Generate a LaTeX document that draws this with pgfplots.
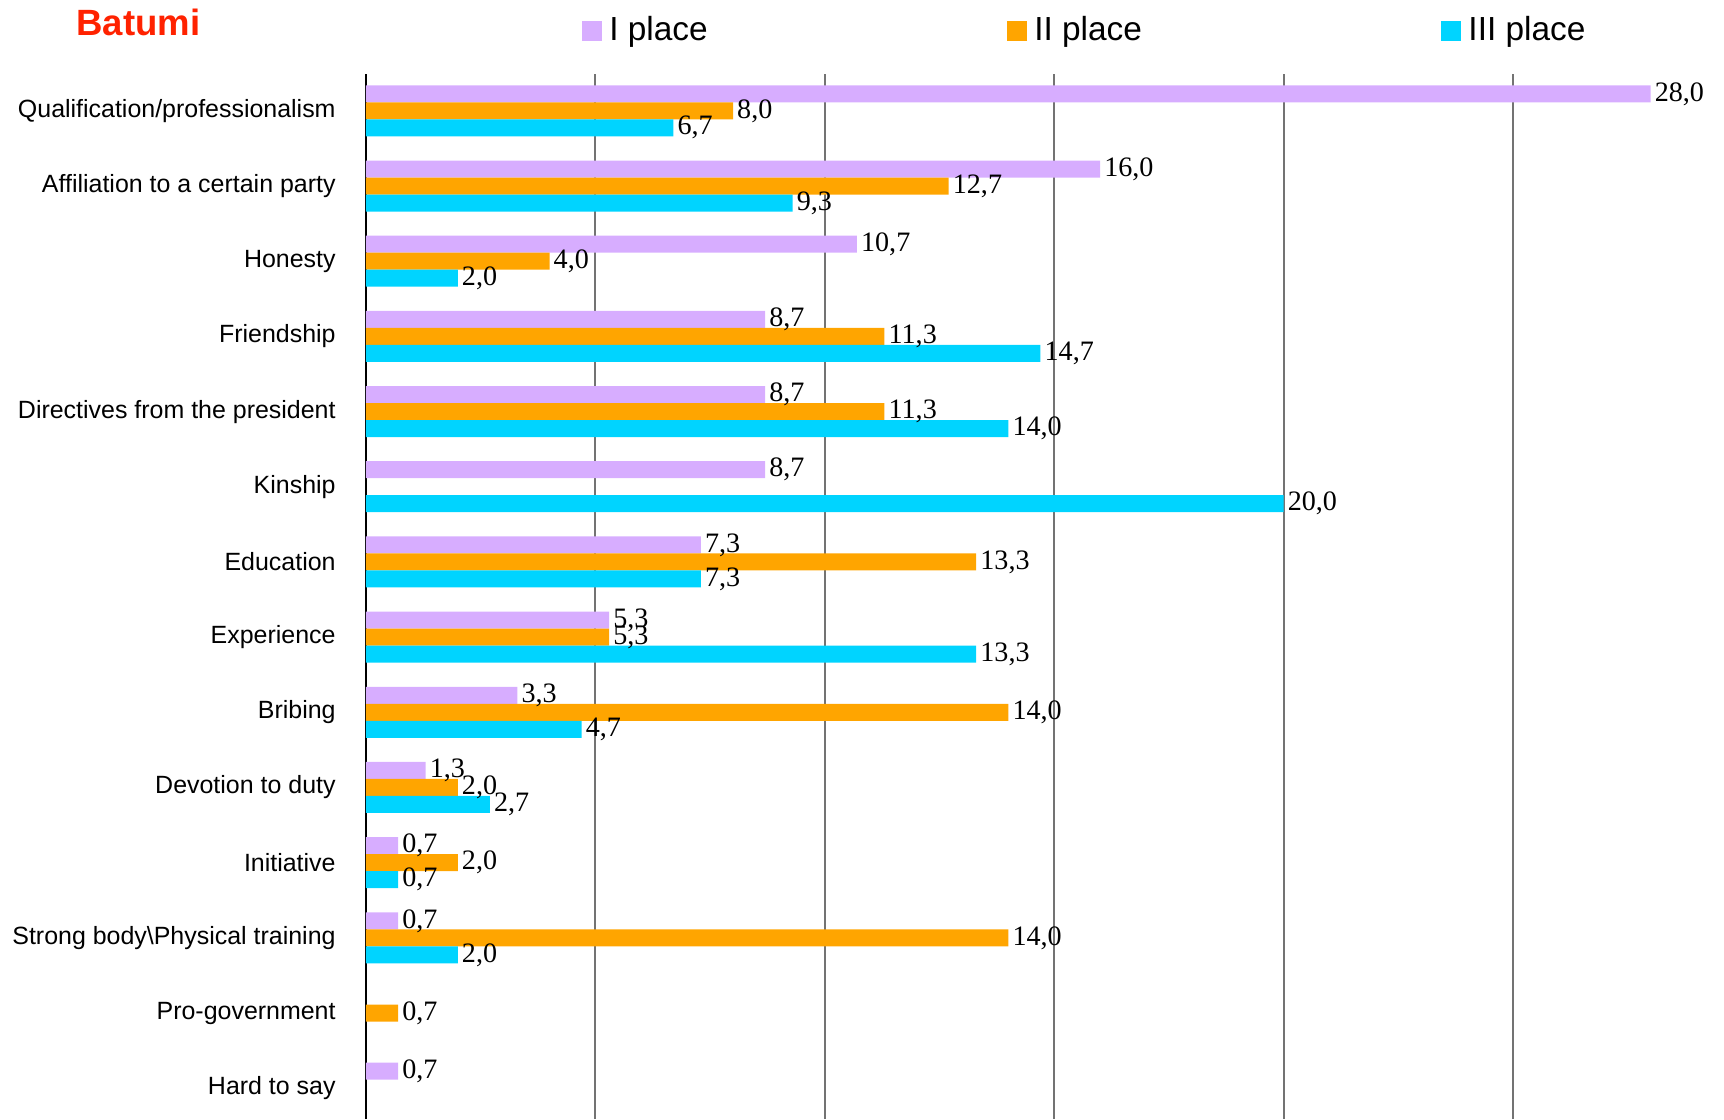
\documentclass[border=0pt]{standalone}
\usepackage{pgfplots}
\pgfplotsset{compat=1.18}
\usepackage{fontspec}
\setmainfont{Liberation Sans}
\newfontfamily\serif{Liberation Serif}
\definecolor{cI}{HTML}{D7ADFF}
\definecolor{cII}{HTML}{FFA500}
\definecolor{cIII}{HTML}{00D4FF}
\definecolor{ctitle}{HTML}{FF2200}
\begin{document}
\begin{tikzpicture}
\begin{axis}[
 scale only axis, width=135.8mm, height=104.5mm,
 xmin=0, xmax=29.6, ymin=-0.41, ymax=13.49,
 clip=false,
 xbar, bar width=1.7mm,
 axis line style={draw=none},
 xtick={5,10,...,25}, xticklabels={},
 extra x ticks={0}, extra x tick labels={},
 extra x tick style={grid style={black, line width=0.6pt}},
 xmajorgrids, grid style={black!55, line width=0.6pt},
 major tick length=0,
 ytick={0,...,13},
 yticklabels={Hard to say, Pro-government, Strong body\textbackslash Physical training, Initiative, Devotion to duty, Bribing, Experience, Education, Kinship, Directives from the president, Friendship, Honesty, Affiliation to a certain party, Qualification/professionalism},
 yticklabel style={font=\fontsize{7.1}{8}\selectfont, xshift=-1.8mm},
 nodes near coords={\pgfmathprintnumber[fixed,fixed zerofill,precision=1,use comma,assume math mode=true]{\pgfplotspointmeta}},
 every node near coord/.append style={font=\serif\fontsize{8}{9}\selectfont, anchor=west, inner sep=1pt, text=black},
 legend columns=3,
 legend style={draw=none, fill=none, at={(axis description cs:0.151,1.0413)}, anchor=west, font=\fontsize{9.5}{11}\selectfont, /tikz/every even column/.append style={column sep=29.25mm}},
 legend image code/.code={\fill[#1] (0mm,-1mm) rectangle (2mm,1mm);},
]
\addplot[fill=cI, draw=none, bar shift=1.7mm] coordinates {
 (28.0,13) (16.0,12) (10.7,11) (8.7,10) (8.7,9) (8.7,8) (7.3,7) (5.3,6) (3.3,5) (1.3,4) (0.7,3) (0.7,2) (0.7,0)};
\addplot[fill=cII, draw=none, bar shift=0mm] coordinates {
 (8.0,13) (12.7,12) (4.0,11) (11.3,10) (11.3,9) (13.3,7) (5.3,6) (14.0,5) (2.0,4) (2.0,3) (14.0,2) (0.7,1)};
\addplot[fill=cIII, draw=none, bar shift=-1.7mm] coordinates {
 (6.7,13) (9.3,12) (2.0,11) (14.7,10) (14.0,9) (20.0,8) (7.3,7) (13.3,6) (4.7,5) (2.7,4) (0.7,3) (2.0,2)};
\legend{I place, II place, III place}
\node[anchor=west, font=\bfseries\fontsize{10.4}{12}\selectfont, text=ctitle] at (axis description cs:-0.2224,1.0498) {Batumi};
\coordinate (SW) at (rel axis cs:0,0);
\coordinate (NE) at (rel axis cs:1,1);
\end{axis}
\pgfresetboundingbox
\path[use as bounding box] ([xshift=-36.6mm]SW) rectangle ([yshift=7.4mm]NE);
\end{tikzpicture}
\end{document}
